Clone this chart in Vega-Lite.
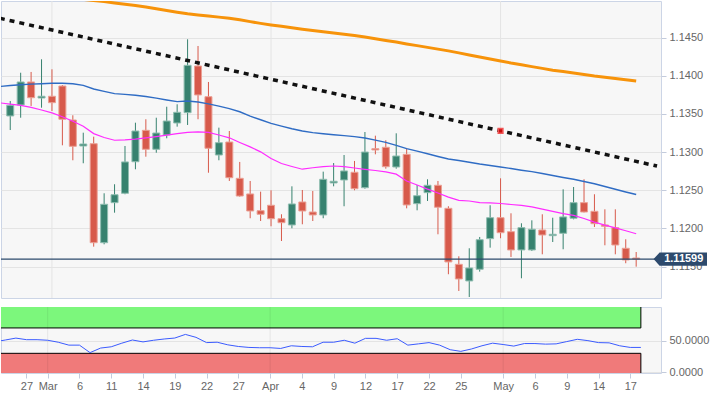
{
  "$schema": "https://vega.github.io/schema/vega-lite/v6.json",
  "background": "#ffffff",
  "padding": 0,
  "spacing": 7,
  "config": {
    "view": {"fill": "#f7f7f7", "stroke": "#ccd5e6", "strokeWidth": 1},
    "axis": {"disable": false, "labels": true, "ticks": true}
  },
  "datasets": {
    "candles": [
      {"i":0,"date":"2019-02-25","o":1.13473,"h":1.13669,"l":1.13289,"c":1.13613},
      {"i":1,"date":"2019-02-26","o":1.13617,"h":1.14039,"l":1.13450,"c":1.13918},
      {"i":2,"date":"2019-02-27","o":1.13918,"h":1.14049,"l":1.13604,"c":1.13712},
      {"i":3,"date":"2019-02-28","o":1.13708,"h":1.14215,"l":1.13581,"c":1.13731},
      {"i":4,"date":"2019-03-01","o":1.13731,"h":1.14084,"l":1.13538,"c":1.13647},
      {"i":5,"date":"2019-03-04","o":1.13865,"h":1.13878,"l":1.13089,"c":1.13430},
      {"i":6,"date":"2019-03-05","o":1.13420,"h":1.13482,"l":1.12893,"c":1.13076},
      {"i":7,"date":"2019-03-06","o":1.13080,"h":1.13254,"l":1.12854,"c":1.13106},
      {"i":8,"date":"2019-03-07","o":1.13110,"h":1.13202,"l":1.11762,"c":1.11814},
      {"i":9,"date":"2019-03-08","o":1.11814,"h":1.12461,"l":1.11793,"c":1.12317},
      {"i":10,"date":"2019-03-11","o":1.12338,"h":1.12579,"l":1.12207,"c":1.12442},
      {"i":11,"date":"2019-03-12","o":1.12461,"h":1.13080,"l":1.12448,"c":1.12871},
      {"i":12,"date":"2019-03-13","o":1.12874,"h":1.13385,"l":1.12775,"c":1.13276},
      {"i":13,"date":"2019-03-14","o":1.13285,"h":1.13430,"l":1.12940,"c":1.13037},
      {"i":14,"date":"2019-03-15","o":1.13037,"h":1.13450,"l":1.12992,"c":1.13250},
      {"i":15,"date":"2019-03-18","o":1.13224,"h":1.13594,"l":1.13181,"c":1.13407},
      {"i":16,"date":"2019-03-19","o":1.13381,"h":1.13626,"l":1.13333,"c":1.13521},
      {"i":17,"date":"2019-03-20","o":1.13516,"h":1.14477,"l":1.13355,"c":1.14136},
      {"i":18,"date":"2019-03-21","o":1.14127,"h":1.14389,"l":1.13430,"c":1.13748},
      {"i":19,"date":"2019-03-22","o":1.13725,"h":1.13918,"l":1.12730,"c":1.13050},
      {"i":20,"date":"2019-03-25","o":1.12962,"h":1.13320,"l":1.12893,"c":1.13123},
      {"i":21,"date":"2019-03-26","o":1.13132,"h":1.13276,"l":1.12622,"c":1.12665},
      {"i":22,"date":"2019-03-27","o":1.12657,"h":1.12871,"l":1.12416,"c":1.12425},
      {"i":23,"date":"2019-03-28","o":1.12452,"h":1.12622,"l":1.12134,"c":1.12229},
      {"i":24,"date":"2019-03-29","o":1.12233,"h":1.12482,"l":1.12098,"c":1.12186},
      {"i":25,"date":"2019-04-01","o":1.12304,"h":1.12500,"l":1.12029,"c":1.12128},
      {"i":26,"date":"2019-04-02","o":1.12128,"h":1.12186,"l":1.11836,"c":1.12076},
      {"i":27,"date":"2019-04-03","o":1.12046,"h":1.12552,"l":1.12003,"c":1.12321},
      {"i":28,"date":"2019-04-04","o":1.12347,"h":1.12504,"l":1.12055,"c":1.12229},
      {"i":29,"date":"2019-04-05","o":1.12216,"h":1.12491,"l":1.12098,"c":1.12177},
      {"i":30,"date":"2019-04-08","o":1.12177,"h":1.12744,"l":1.12134,"c":1.12644},
      {"i":31,"date":"2019-04-09","o":1.12596,"h":1.12857,"l":1.12552,"c":1.12618},
      {"i":32,"date":"2019-04-10","o":1.12635,"h":1.12962,"l":1.12291,"c":1.12753},
      {"i":33,"date":"2019-04-11","o":1.12736,"h":1.12884,"l":1.12500,"c":1.12521},
      {"i":34,"date":"2019-04-12","o":1.12534,"h":1.13263,"l":1.12521,"c":1.13001},
      {"i":35,"date":"2019-04-15","o":1.13045,"h":1.13215,"l":1.12971,"c":1.13028},
      {"i":36,"date":"2019-04-16","o":1.13063,"h":1.13155,"l":1.12783,"c":1.12809},
      {"i":37,"date":"2019-04-17","o":1.12805,"h":1.13246,"l":1.12783,"c":1.12949},
      {"i":38,"date":"2019-04-18","o":1.12971,"h":1.13045,"l":1.12264,"c":1.12308},
      {"i":39,"date":"2019-04-19","o":1.12325,"h":1.12569,"l":1.12238,"c":1.12429},
      {"i":40,"date":"2019-04-22","o":1.12469,"h":1.12644,"l":1.12360,"c":1.12566},
      {"i":41,"date":"2019-04-23","o":1.12566,"h":1.12622,"l":1.11924,"c":1.12278},
      {"i":42,"date":"2019-04-24","o":1.12264,"h":1.12291,"l":1.11401,"c":1.11562},
      {"i":43,"date":"2019-04-25","o":1.11531,"h":1.11636,"l":1.11182,"c":1.11339},
      {"i":44,"date":"2019-04-26","o":1.11313,"h":1.11741,"l":1.11103,"c":1.11483},
      {"i":45,"date":"2019-04-29","o":1.11466,"h":1.11889,"l":1.11435,"c":1.11853},
      {"i":46,"date":"2019-04-30","o":1.11867,"h":1.12304,"l":1.11749,"c":1.12141},
      {"i":47,"date":"2019-05-01","o":1.12141,"h":1.12657,"l":1.11872,"c":1.11945},
      {"i":48,"date":"2019-05-02","o":1.11958,"h":1.12199,"l":1.11627,"c":1.11719},
      {"i":49,"date":"2019-05-03","o":1.11719,"h":1.12068,"l":1.11348,"c":1.12011},
      {"i":50,"date":"2019-05-06","o":1.11719,"h":1.12107,"l":1.11705,"c":1.11990},
      {"i":51,"date":"2019-05-07","o":1.11980,"h":1.12186,"l":1.11662,"c":1.11915},
      {"i":52,"date":"2019-05-08","o":1.11906,"h":1.12141,"l":1.11823,"c":1.11924},
      {"i":53,"date":"2019-05-09","o":1.11937,"h":1.12513,"l":1.11728,"c":1.12151},
      {"i":54,"date":"2019-05-10","o":1.12134,"h":1.12543,"l":1.12120,"c":1.12338},
      {"i":55,"date":"2019-05-13","o":1.12338,"h":1.12644,"l":1.12210,"c":1.12216},
      {"i":56,"date":"2019-05-14","o":1.12225,"h":1.12448,"l":1.12020,"c":1.12063},
      {"i":57,"date":"2019-05-15","o":1.12046,"h":1.12251,"l":1.11780,"c":1.12029},
      {"i":58,"date":"2019-05-16","o":1.12011,"h":1.12251,"l":1.11662,"c":1.11784},
      {"i":59,"date":"2019-05-17","o":1.11741,"h":1.11859,"l":1.11545,"c":1.11588},
      {"i":60,"date":"2019-05-20","o":1.11614,"h":1.11692,"l":1.11500,"c":1.11599}
    ],
    "studies": [
      {"i":-1,"sma20":1.13645,"sma50":1.13859,"sma200":1.15148,"rsi":48},
      {"i":0,"sma20":1.13627,"sma50":1.13871,"sma200":1.15132,"rsi":51},
      {"i":1,"sma20":1.13611,"sma50":1.13882,"sma200":1.15115,"rsi":54},
      {"i":2,"sma20":1.13585,"sma50":1.13890,"sma200":1.15096,"rsi":51.5},
      {"i":3,"sma20":1.13551,"sma50":1.13895,"sma200":1.15076,"rsi":51.5},
      {"i":4,"sma20":1.13513,"sma50":1.13901,"sma200":1.15057,"rsi":50.6},
      {"i":5,"sma20":1.13462,"sma50":1.13901,"sma200":1.15037,"rsi":47.5},
      {"i":6,"sma20":1.13403,"sma50":1.13894,"sma200":1.15017,"rsi":42.9},
      {"i":7,"sma20":1.13338,"sma50":1.13873,"sma200":1.14999,"rsi":42.9},
      {"i":8,"sma20":1.13242,"sma50":1.13826,"sma200":1.14983,"rsi":31.1},
      {"i":9,"sma20":1.13191,"sma50":1.13795,"sma200":1.14970,"rsi":38.3},
      {"i":10,"sma20":1.13155,"sma50":1.13765,"sma200":1.14952,"rsi":40.3},
      {"i":11,"sma20":1.13160,"sma50":1.13755,"sma200":1.14935,"rsi":46},
      {"i":12,"sma20":1.13169,"sma50":1.13745,"sma200":1.14919,"rsi":51},
      {"i":13,"sma20":1.13185,"sma50":1.13727,"sma200":1.14899,"rsi":48},
      {"i":14,"sma20":1.13203,"sma50":1.13706,"sma200":1.14876,"rsi":50.6},
      {"i":15,"sma20":1.13223,"sma50":1.13682,"sma200":1.14854,"rsi":52.6},
      {"i":16,"sma20":1.13242,"sma50":1.13661,"sma200":1.14831,"rsi":54.1},
      {"i":17,"sma20":1.13257,"sma50":1.13668,"sma200":1.14810,"rsi":59.8},
      {"i":18,"sma20":1.13266,"sma50":1.13656,"sma200":1.14796,"rsi":55.2},
      {"i":19,"sma20":1.13258,"sma50":1.13631,"sma200":1.14782,"rsi":46.9},
      {"i":20,"sma20":1.13224,"sma50":1.13601,"sma200":1.14767,"rsi":47.5},
      {"i":21,"sma20":1.13187,"sma50":1.13570,"sma200":1.14753,"rsi":43.4},
      {"i":22,"sma20":1.13126,"sma50":1.13528,"sma200":1.14732,"rsi":40.8},
      {"i":23,"sma20":1.13068,"sma50":1.13471,"sma200":1.14708,"rsi":39.3},
      {"i":24,"sma20":1.13003,"sma50":1.13423,"sma200":1.14685,"rsi":38.8},
      {"i":25,"sma20":1.12916,"sma50":1.13376,"sma200":1.14664,"rsi":38.8},
      {"i":26,"sma20":1.12850,"sma50":1.13340,"sma200":1.14646,"rsi":37.7},
      {"i":27,"sma20":1.12812,"sma50":1.13305,"sma200":1.14627,"rsi":41.9},
      {"i":28,"sma20":1.12776,"sma50":1.13276,"sma200":1.14609,"rsi":40.8},
      {"i":29,"sma20":1.12795,"sma50":1.13255,"sma200":1.14593,"rsi":40.3},
      {"i":30,"sma20":1.12810,"sma50":1.13240,"sma200":1.14576,"rsi":47.5},
      {"i":31,"sma20":1.12818,"sma50":1.13228,"sma200":1.14560,"rsi":47.5},
      {"i":32,"sma20":1.12809,"sma50":1.13216,"sma200":1.14543,"rsi":50.6},
      {"i":33,"sma20":1.12792,"sma50":1.13202,"sma200":1.14526,"rsi":46},
      {"i":34,"sma20":1.12774,"sma50":1.13185,"sma200":1.14507,"rsi":53.6},
      {"i":35,"sma20":1.12759,"sma50":1.13156,"sma200":1.14485,"rsi":53.6},
      {"i":36,"sma20":1.12740,"sma50":1.13127,"sma200":1.14462,"rsi":50.6},
      {"i":37,"sma20":1.12711,"sma50":1.13089,"sma200":1.14441,"rsi":53},
      {"i":38,"sma20":1.12622,"sma50":1.13045,"sma200":1.14416,"rsi":42.9},
      {"i":39,"sma20":1.12569,"sma50":1.13012,"sma200":1.14394,"rsi":44.9},
      {"i":40,"sma20":1.12515,"sma50":1.12978,"sma200":1.14371,"rsi":46.9},
      {"i":41,"sma20":1.12465,"sma50":1.12943,"sma200":1.14348,"rsi":42.9},
      {"i":42,"sma20":1.12410,"sma50":1.12910,"sma200":1.14325,"rsi":35.7},
      {"i":43,"sma20":1.12369,"sma50":1.12890,"sma200":1.14299,"rsi":33.1},
      {"i":44,"sma20":1.12360,"sma50":1.12867,"sma200":1.14272,"rsi":36.8},
      {"i":45,"sma20":1.12338,"sma50":1.12844,"sma200":1.14245,"rsi":41.9},
      {"i":46,"sma20":1.12334,"sma50":1.12825,"sma200":1.14219,"rsi":46},
      {"i":47,"sma20":1.12327,"sma50":1.12805,"sma200":1.14193,"rsi":43.9},
      {"i":48,"sma20":1.12314,"sma50":1.12785,"sma200":1.14166,"rsi":41.4},
      {"i":49,"sma20":1.12302,"sma50":1.12763,"sma200":1.14143,"rsi":45.4},
      {"i":50,"sma20":1.12284,"sma50":1.12744,"sma200":1.14119,"rsi":45.4},
      {"i":51,"sma20":1.12254,"sma50":1.12720,"sma200":1.14096,"rsi":44.5},
      {"i":52,"sma20":1.12224,"sma50":1.12694,"sma200":1.14072,"rsi":44.9},
      {"i":53,"sma20":1.12195,"sma50":1.12668,"sma200":1.14054,"rsi":48.5},
      {"i":54,"sma20":1.12172,"sma50":1.12644,"sma200":1.14035,"rsi":52.1},
      {"i":55,"sma20":1.12131,"sma50":1.12615,"sma200":1.14016,"rsi":50},
      {"i":56,"sma20":1.12083,"sma50":1.12585,"sma200":1.13996,"rsi":46.9},
      {"i":57,"sma20":1.12045,"sma50":1.12550,"sma200":1.13981,"rsi":46.5},
      {"i":58,"sma20":1.12007,"sma50":1.12513,"sma200":1.13963,"rsi":41.9},
      {"i":59,"sma20":1.11970,"sma50":1.12478,"sma200":1.13947,"rsi":39.3},
      {"i":60,"sma20":1.11931,"sma50":1.12445,"sma200":1.13931,"rsi":39.3}
    ],
    "trend": [{"i":-1,"v":1.14752},{"i":62,"v":1.12817}],
    "touch": [{"i":47,"v":1.13278}],
    "last": [{"i":60,"from":-1,"to":62,"v":1.11599}],
    "months": [{"i":4,"m":"Mar"},{"i":25,"m":"Apr"},{"i":47,"m":"May"}],
    "zones": [{"zone":"overbought","i":-3,"i2":60,"lo":70,"hi":110},{"zone":"oversold","i":-3,"i2":60,"lo":-10,"hi":30}]
  },
  "vconcat": [
    {
      "width": 660,
      "height": 297,
      "encoding": {
        "x": {"field": "i", "type": "quantitative", "scale": {"domain": [-0.406, 61.9], "nice": false, "zero": false}, "axis": null}
      },
      "layer": [
        {
          "data": {"name": "months"},
          "mark": {"type": "rule", "color": "#e4e4e4", "strokeWidth": 1}
        },
        {
          "data": {"name": "candles"},
          "mark": {"type": "rule", "strokeWidth": 1, "clip": true},
          "encoding": {
            "y": {"field": "l", "type": "quantitative", "scale": {"domain": [1.1109, 1.14978], "nice": false, "zero": false}, "axis": {"orient": "right", "values": [1.115, 1.12, 1.125, 1.13, 1.135, 1.14, 1.145], "format": ".4f", "grid": true, "gridColor": "#e4e4e4", "domain": false, "title": null, "tickSize": 5, "tickColor": "#c3cbdc", "labelPadding": 3, "labelFont": "Liberation Sans", "labelFontSize": 11, "labelColor": "#666666", "labels": true, "ticks": true}},
            "y2": {"field": "h"},
            "color": {"condition": {"test": "datum.c >= datum.o", "value": "#37826f"}, "value": "#d75a4b"}
          }
        },
        {
          "data": {"name": "candles"},
          "mark": {"type": "bar", "size": 7, "strokeWidth": 1, "clip": true},
          "encoding": {
            "y": {"field": "o", "type": "quantitative"},
            "y2": {"field": "c"},
            "fill": {"condition": {"test": "datum.c >= datum.o", "value": "#37826f"}, "value": "#d75a4b"},
            "stroke": {"condition": {"test": "datum.c >= datum.o", "value": "#8fbdb0"}, "value": "#eba095"}
          }
        },
        {
          "data": {"name": "studies"},
          "mark": {"type": "line", "color": "#f7930a", "strokeWidth": 3, "clip": true},
          "encoding": {"y": {"field": "sma200", "type": "quantitative"}}
        },
        {
          "data": {"name": "studies"},
          "mark": {"type": "line", "color": "#2f6cc4", "strokeWidth": 1.4, "clip": true},
          "encoding": {"y": {"field": "sma50", "type": "quantitative"}}
        },
        {
          "data": {"name": "studies"},
          "mark": {"type": "line", "color": "#ff2cff", "strokeWidth": 1.2, "clip": true},
          "encoding": {"y": {"field": "sma20", "type": "quantitative"}}
        },
        {
          "data": {"name": "trend"},
          "mark": {"type": "line", "color": "#111111", "strokeWidth": 3.5, "strokeDash": [5, 5], "clip": true},
          "encoding": {"y": {"field": "v", "type": "quantitative"}}
        },
        {
          "data": {"name": "touch"},
          "mark": {"type": "point", "shape": "square", "filled": true, "opacity": 1, "size": 22, "fill": "#c81010", "stroke": "#f25555", "strokeWidth": 1.5},
          "encoding": {"y": {"field": "v", "type": "quantitative"}}
        },
        {
          "data": {"name": "last"},
          "mark": {"type": "rule", "color": "#2d4a6d", "strokeWidth": 1.2, "clip": true},
          "encoding": {
            "x": {"field": "from", "type": "quantitative", "scale": {"domain": [-0.406, 61.9], "nice": false, "zero": false}, "axis": null},
            "x2": {"field": "to"},
            "y": {"field": "v", "type": "quantitative"}
          }
        },
        {
          "data": {"name": "last"},
          "mark": {"type": "point", "filled": true, "opacity": 1, "size": 2852, "fill": "#2d4a6d", "strokeWidth": 0, "xOffset": 44.1, "shape": "M-1,0L-0.775,-0.245L1,-0.245L1,0.245L-0.775,0.245Z"},
          "encoding": {"y": {"field": "v", "type": "quantitative"}}
        },
        {
          "data": {"name": "last"},
          "mark": {"type": "text", "color": "#ffffff", "font": "Liberation Sans", "fontSize": 11, "fontWeight": "bold", "align": "center", "baseline": "middle", "dx": 47.6},
          "encoding": {
            "y": {"field": "v", "type": "quantitative"},
            "text": {"field": "v", "type": "quantitative", "format": ".5f"}
          }
        }
      ]
    },
    {
      "width": 660,
      "height": 66,
      "encoding": {
        "x": {"field": "i", "type": "quantitative", "scale": {"domain": [-0.406, 61.9], "nice": false, "zero": false}, "axis": {"values": [2, 4, 7, 10, 13, 16, 19, 22, 25, 28, 31, 34, 37, 40, 43, 47, 50, 53, 56, 59], "labelExpr": "datum.value==2?'27':datum.value==4?'Mar':datum.value==7?'6':datum.value==10?'11':datum.value==13?'14':datum.value==16?'19':datum.value==19?'22':datum.value==22?'27':datum.value==25?'Apr':datum.value==28?'4':datum.value==31?'9':datum.value==34?'12':datum.value==37?'17':datum.value==40?'22':datum.value==43?'25':datum.value==47?'May':datum.value==50?'6':datum.value==53?'9':datum.value==56?'14':datum.value==59?'17':''", "title": null, "grid": false, "domain": false, "tickSize": 5, "tickColor": "#c3cbdc", "labelPadding": 2, "labelOverlap": false, "labelFlush": false, "labelFont": "Liberation Sans", "labelFontSize": 11, "labelColor": "#666666", "labels": true, "ticks": true}}
      },
      "layer": [
        {
          "data": {"name": "zones"},
          "mark": {"type": "rect", "stroke": "#000000", "strokeWidth": 1, "clip": true},
          "encoding": {
            "x2": {"field": "i2"},
            "y": {"field": "lo", "type": "quantitative", "scale": {"domain": [-1, 103], "nice": false, "zero": false}, "axis": {"orient": "right", "values": [0, 50], "format": ".4f", "grid": true, "gridColor": "#e4e4e4", "domain": false, "title": null, "tickSize": 5, "tickColor": "#c3cbdc", "labelPadding": 3, "labelFont": "Liberation Sans", "labelFontSize": 11, "labelColor": "#666666", "labels": true, "ticks": true}},
            "y2": {"field": "hi"},
            "fill": {"condition": {"test": "datum.zone == 'overbought'", "value": "#7cf77c"}, "value": "#f07a7a"}
          }
        },
        {
          "data": {"name": "months"},
          "mark": {"type": "rule", "color": "#000000", "opacity": 0.07, "strokeWidth": 1}
        },
        {
          "data": {"name": "studies"},
          "mark": {"type": "line", "color": "#3b5bff", "strokeWidth": 1, "clip": true},
          "encoding": {"y": {"field": "rsi", "type": "quantitative"}}
        }
      ]
    }
  ]
}
